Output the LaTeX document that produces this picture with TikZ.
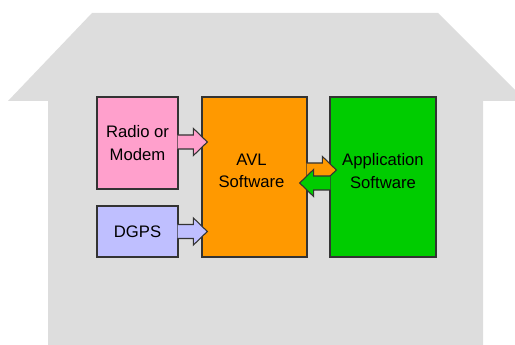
\documentclass[tikz,border=0pt]{standalone}
\usepackage{fontspec}
\setmainfont{Liberation Sans}
\usetikzlibrary{calc}

\definecolor{housegray}{HTML}{DDDDDD}
\definecolor{edgegray}{HTML}{333333}
\definecolor{radiopink}{HTML}{FFA0CC}
\definecolor{gpsblue}{HTML}{BFBFFF}
\definecolor{avlorange}{HTML}{FF9900}
\definecolor{appgreen}{HTML}{00CC00}

\tikzset{
  box/.style={draw=edgegray, line width=1pt, inner sep=0pt},
  lbl/.style={font=\fontsize{12.5}{17}\selectfont, align=center, text=black},
  % horizontal block arrow from start to tip; left end stays open
  blockarrow/.style={
    draw=edgegray, line width=0.8pt, fill=#1, line join=miter,
    to path={
      ($(\tikztostart)!5.25pt!90:(\tikztotarget)$)
      -- ($($(\tikztotarget)!10.5pt!(\tikztostart)$)!5.25pt!90:(\tikztotarget)$)
      -- ($($(\tikztotarget)!10.5pt!(\tikztostart)$)!10.2pt!90:(\tikztotarget)$)
      -- (\tikztotarget)
      -- ($($(\tikztotarget)!10.5pt!(\tikztostart)$)!10.2pt!-90:(\tikztotarget)$)
      -- ($($(\tikztotarget)!10.5pt!(\tikztostart)$)!5.25pt!-90:(\tikztotarget)$)
      -- ($(\tikztostart)!5.25pt!-90:(\tikztotarget)$)
    }
  }
}

\begin{document}
\begin{tikzpicture}[x=0.75pt, y=-0.75pt]
  \useasboundingbox (0,0) rectangle (515,345);
  \clip (0,0) rectangle (515,345);

  % house outline
  \fill[housegray] (92,13) -- (438,13) -- (526,101) -- (483,101) -- (483,350)
    -- (48,350) -- (48,101) -- (8,101) -- cycle;

  % blocks
  \node[box, fill=radiopink, minimum width=60.75pt, minimum height=69pt,
        lbl] (radio) at (137.5,143) {Radio or\\Modem};
  \node[box, fill=gpsblue, minimum width=60.75pt, minimum height=38.25pt,
        lbl] (dgps) at (137.5,231.5) {DGPS};
  \node[box, fill=avlorange, minimum width=78.75pt, minimum height=120pt]
        (avl) at (254.5,177) {};
  \node[box, fill=appgreen, minimum width=79.5pt, minimum height=120pt]
        (app) at (383,177) {};
  \node[lbl] (avltext) at ($(avl.center)+(-3,-6)$) {AVL\\Software};
  \node[lbl] (apptext) at ($(app.center)+(0,-6)$) {Application\\Software};

  % links into and between the blocks
  \path[blockarrow=radiopink] ($(radio.east)+(-1,-1)$) to ($(avl.west)+(6,-35)$);
  \path[blockarrow=gpsblue] ($(dgps.east)+(-1,0)$) to ($(avl.west)+(6,54.5)$);
  \path[blockarrow=avlorange] ($(avl.east)+(-1,-7)$) to ($(app.west)+(7,-7)$);
  \path[blockarrow=appgreen] ($(app.west)+(1,6)$) to ($(avl.east)+(-8,6)$);
\end{tikzpicture}
\end{document}
